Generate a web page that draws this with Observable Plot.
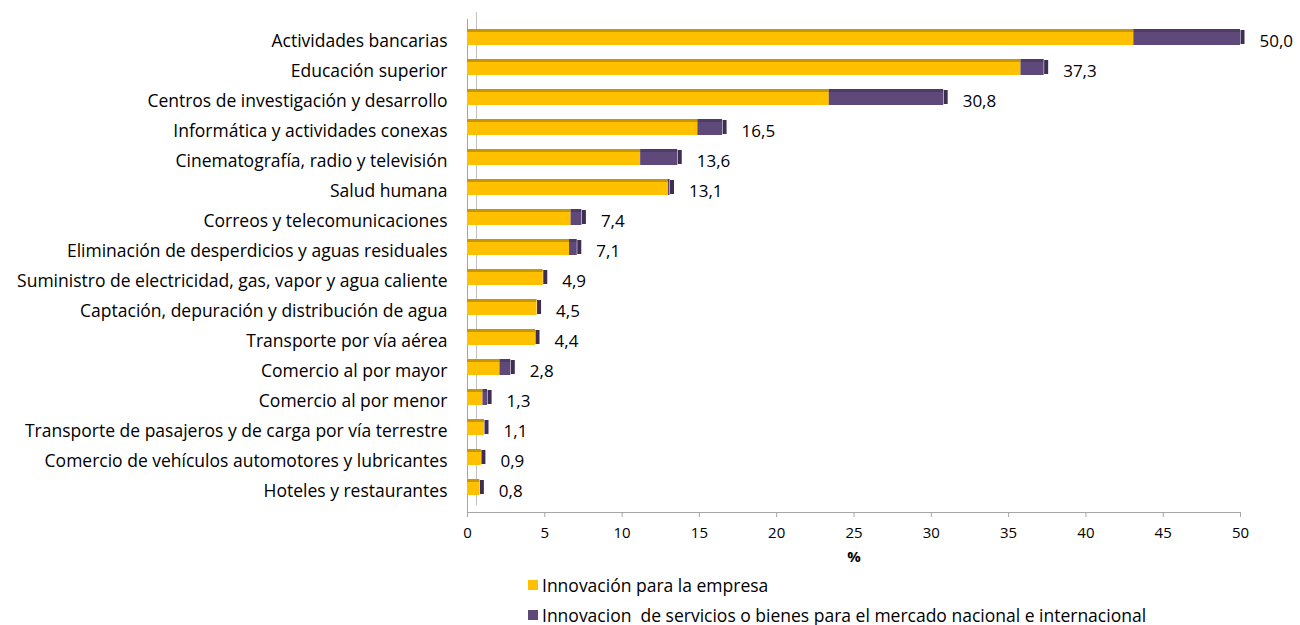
<!DOCTYPE html>
<html>
<head>
<meta charset="utf-8">
<script src="https://cdn.jsdelivr.net/npm/d3@7"></script>
<script src="https://cdn.jsdelivr.net/npm/@observablehq/plot@0.6"></script>
<style>
  body { margin: 0; background: #fff; font-family: "Open Sans", "Liberation Sans", sans-serif; }
  #chart { position: relative; width: 1300px; }
  .legend { margin-left: 528px; font-size: 17.5px; color: #000; }
  .legend div { display: flex; align-items: center; height: 30px; }
  .legend span.sw { display: inline-block; width: 10px; height: 10px; margin-right: 4px; }
</style>
</head>
<body>
<div id="chart"></div>
<script>
const categories = [
  "Actividades bancarias",
  "Educación superior",
  "Centros de investigación y desarrollo",
  "Informática y actividades conexas",
  "Cinematografía, radio y televisión",
  "Salud humana",
  "Correos y telecomunicaciones",
  "Eliminación de desperdicios y aguas residuales",
  "Suministro de electricidad, gas, vapor y agua caliente",
  "Captación, depuración y distribución de agua",
  "Transporte por vía aérea",
  "Comercio al por mayor",
  "Comercio al por menor",
  "Transporte de pasajeros y de carga por vía terrestre",
  "Comercio de vehículos automotores y lubricantes",
  "Hoteles y restaurantes"
];
const empresa = [43.1, 35.8, 23.4, 14.9, 11.2, 13.0, 6.7, 6.6, 4.9, 4.5, 4.4, 2.1, 1.0, 1.1, 0.9, 0.8];
const mercado = [6.9, 1.5, 7.4, 1.6, 2.4, 0.1, 0.7, 0.5, 0.0, 0.0, 0.0, 0.7, 0.3, 0.0, 0.0, 0.0];
const totals  = [50.0, 37.3, 30.8, 16.5, 13.6, 13.1, 7.4, 7.1, 4.9, 4.5, 4.4, 2.8, 1.3, 1.1, 0.9, 0.8];
const seriesNames = ["Innovación para la empresa", "Innovacion  de servicios o bienes para el mercado nacional e internacional"];
const xTicks = [0, 5, 10, 15, 20, 25, 30, 35, 40, 45, 50];

const frontColor = {[seriesNames[0]]: "#FFC000", [seriesNames[1]]: "#5F497A"};
const topColor = {[seriesNames[0]]: "#C99700", [seriesNames[1]]: "#4E3B66"};

const long = [];
categories.forEach((c, i) => {
  long.push({cat: c, series: seriesNames[0], value: empresa[i]});
  long.push({cat: c, series: seriesNames[1], value: mercado[i]});
});
const tot = categories.map((c, i) => ({cat: c, total: totals[i]}));
const fmt = v => d3.format(".1f")(v).replace(".", ",");

const chart = Plot.plot({
  width: 1300,
  height: 570,
  marginLeft: 467,
  marginRight: 60,
  marginTop: 19,
  marginBottom: 58,
  style: {fontFamily: "'Open Sans', 'Liberation Sans', sans-serif", fontSize: "15px", color: "#000", background: "#fff"},
  x: {domain: [0, 50]},
  y: {domain: categories, paddingInner: 0.48, paddingOuter: 0.24},
  marks: [
    Plot.ruleX([0], {stroke: "#a6a6a6", strokeWidth: 1}),
    Plot.ruleX([0], {stroke: "#bfbfbf", strokeWidth: 1, dx: 9, dy: -7}),
    Plot.frame({anchor: "bottom", stroke: "#a6a6a6"}),
    Plot.barX(long, {y: "cat", x: "value", fill: d => frontColor[d.series], insetTop: 3, dy: -4}),
    Plot.barX(long, {y: "cat", x: "value", fill: d => topColor[d.series], insetBottom: 13, dy: -4}),
    Plot.tickX(tot, {x: "total", y: "cat", stroke: "#3D2E52", strokeWidth: 4, dx: 2, dy: -4, insetTop: 1, insetBottom: 1}),
    Plot.text(tot, {x: "total", y: "cat", text: d => fmt(d.total), textAnchor: "start", dx: 19, fontSize: 17, fill: "#000"}),
    Plot.axisX({ticks: xTicks, tickSize: 5, tickPadding: 10, fontSize: 15, stroke: "#a6a6a6", label: null}),
    Plot.text(["%"], {frameAnchor: "bottom", dy: 49, fontSize: 15, fontWeight: "bold", fill: "#000"}),
    Plot.axisY({tickSize: 0, tickPadding: 20, fontSize: 17.5, label: null})
  ]
});
document.getElementById("chart").appendChild(chart);

const leg = document.createElement("div");
leg.className = "legend";
seriesNames.forEach(s => {
  const row = document.createElement("div");
  row.innerHTML = `<span class="sw" style="background:${frontColor[s]}"></span><span style="white-space:pre">${s}</span>`;
  leg.appendChild(row);
});
document.getElementById("chart").appendChild(leg);
</script>
</body>
</html>
